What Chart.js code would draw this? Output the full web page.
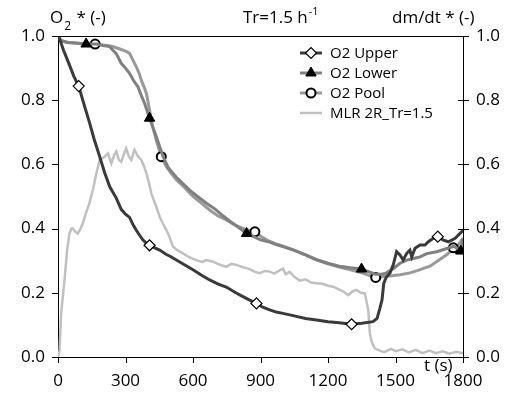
<!DOCTYPE html>
<html>
<head>
<meta charset="utf-8">
<script src="https://cdn.jsdelivr.net/npm/chart.js@4.4.0/dist/chart.umd.min.js"></script>
<style>
	html, body { margin: 0; padding: 0; background: #fff; }
	canvas { display: block; }
</style>
</head>
<body>
<canvas id="chart" width="514" height="406"></canvas>
<script>
// O2 Upper (left axis)
const upperT = [0, 10, 25, 45, 70, 92, 110, 140, 160, 185, 207, 230, 259, 281, 300, 318, 335, 348, 362, 377, 392, 407, 430, 452, 480, 500, 526, 560, 600, 640, 674, 710, 748, 790, 822, 850, 882, 910, 941, 970, 1000, 1050, 1100, 1149, 1200, 1250, 1305, 1350, 1400, 1418, 1430, 1440, 1448, 1460, 1475, 1490, 1505, 1520, 1534, 1550, 1564, 1572, 1587, 1609, 1631, 1646, 1668, 1688, 1713, 1735, 1765, 1787, 1800];
const upperV = [1.0, 0.985, 0.955, 0.92, 0.875, 0.844, 0.80, 0.73, 0.68, 0.625, 0.575, 0.53, 0.495, 0.46, 0.445, 0.435, 0.41, 0.395, 0.38, 0.365, 0.355, 0.348, 0.34, 0.333, 0.32, 0.313, 0.302, 0.288, 0.272, 0.254, 0.24, 0.228, 0.218, 0.20, 0.188, 0.178, 0.167, 0.155, 0.147, 0.14, 0.136, 0.128, 0.12, 0.115, 0.11, 0.107, 0.102, 0.105, 0.11, 0.12, 0.15, 0.178, 0.23, 0.25, 0.261, 0.287, 0.328, 0.318, 0.302, 0.323, 0.333, 0.312, 0.339, 0.349, 0.349, 0.359, 0.37, 0.375, 0.364, 0.359, 0.37, 0.385, 0.395];
const upperMarks = [92, 407, 882, 1305, 1688];

// O2 Lower (left axis)
const lowerT = [0, 15, 40, 80, 125, 170, 200, 229, 245, 259, 270, 281, 300, 318, 335, 355, 370, 385, 397, 407, 422, 437, 452, 470, 490, 526, 555, 585, 620, 660, 700, 733, 770, 800, 838, 870, 900, 941, 970, 1000, 1050, 1100, 1149, 1200, 1250, 1300, 1349, 1380, 1410, 1440, 1460, 1490, 1520, 1550, 1579, 1609, 1639, 1683, 1728, 1760, 1790, 1800];
const lowerV = [1.0, 0.985, 0.98, 0.978, 0.975, 0.975, 0.97, 0.967, 0.955, 0.945, 0.93, 0.915, 0.90, 0.884, 0.862, 0.842, 0.815, 0.79, 0.765, 0.744, 0.715, 0.686, 0.655, 0.62, 0.59, 0.56, 0.54, 0.52, 0.50, 0.479, 0.46, 0.44, 0.42, 0.405, 0.385, 0.375, 0.365, 0.358, 0.35, 0.344, 0.332, 0.318, 0.303, 0.292, 0.283, 0.278, 0.274, 0.266, 0.258, 0.258, 0.262, 0.275, 0.292, 0.302, 0.307, 0.312, 0.322, 0.328, 0.338, 0.345, 0.33, 0.37];
const lowerMarks = [125, 407, 838, 1349, 1790];

// O2 Pool (left axis)
const poolT = [0, 15, 50, 100, 165, 200, 240, 281, 303, 318, 333, 348, 360, 370, 383, 393, 400, 407, 420, 437, 459, 480, 500, 526, 560, 600, 640, 674, 710, 748, 790, 830, 875, 910, 941, 970, 1000, 1050, 1100, 1149, 1200, 1250, 1300, 1350, 1380, 1412, 1440, 1475, 1520, 1564, 1600, 1653, 1700, 1730, 1757, 1780, 1800];
const poolV = [1.0, 0.985, 0.98, 0.977, 0.975, 0.972, 0.968, 0.958, 0.952, 0.946, 0.925, 0.904, 0.885, 0.863, 0.84, 0.821, 0.795, 0.769, 0.72, 0.675, 0.624, 0.595, 0.575, 0.552, 0.53, 0.50, 0.478, 0.458, 0.44, 0.427, 0.41, 0.398, 0.39, 0.372, 0.36, 0.352, 0.345, 0.333, 0.318, 0.303, 0.29, 0.28, 0.272, 0.262, 0.255, 0.248, 0.25, 0.252, 0.256, 0.262, 0.27, 0.283, 0.305, 0.32, 0.34, 0.35, 0.37];
const poolMarks = [165, 459, 875, 1412, 1757];

// MLR 2R_Tr=1.5 (right axis)
const mlrT = [0, 7, 14, 29, 40, 51, 60, 66, 77, 88, 100, 110, 125, 140, 155, 170, 185, 200, 207, 222, 237, 250, 259, 270, 281, 292, 303, 315, 326, 335, 340, 355, 370, 382, 393, 405, 415, 425, 437, 452, 466, 478, 489, 500, 511, 530, 555, 585, 615, 640, 660, 689, 710, 730, 748, 770, 793, 820, 852, 875, 897, 920, 941, 960, 985, 1000, 1012, 1030, 1050, 1075, 1100, 1125, 1149, 1175, 1200, 1223, 1250, 1270, 1290, 1310, 1327, 1345, 1364, 1372, 1379, 1386, 1395, 1408, 1430, 1450, 1480, 1500, 1530, 1560, 1590, 1620, 1650, 1680, 1710, 1740, 1770, 1800];
const mlrV = [0.0, 0.02, 0.136, 0.24, 0.33, 0.385, 0.40, 0.40, 0.39, 0.385, 0.40, 0.416, 0.45, 0.48, 0.52, 0.57, 0.614, 0.62, 0.624, 0.634, 0.603, 0.63, 0.64, 0.615, 0.608, 0.63, 0.65, 0.625, 0.614, 0.635, 0.645, 0.625, 0.614, 0.595, 0.572, 0.54, 0.51, 0.49, 0.468, 0.437, 0.416, 0.40, 0.385, 0.365, 0.344, 0.333, 0.323, 0.31, 0.302, 0.296, 0.302, 0.297, 0.29, 0.285, 0.281, 0.29, 0.287, 0.28, 0.274, 0.265, 0.261, 0.268, 0.266, 0.26, 0.27, 0.275, 0.258, 0.265, 0.25, 0.238, 0.242, 0.232, 0.23, 0.228, 0.222, 0.219, 0.21, 0.203, 0.193, 0.205, 0.209, 0.20, 0.198, 0.17, 0.146, 0.074, 0.045, 0.027, 0.02, 0.015, 0.025, 0.018, 0.024, 0.014, 0.022, 0.012, 0.02, 0.012, 0.018, 0.01, 0.016, 0.012];

// Tick labels
const xTicks = [0, 300, 600, 900, 1200, 1500, 1800];
const yTicks = [0, 0.2, 0.4, 0.6, 0.8, 1.0];

const FONT = '"Open Sans", "Noto Sans", sans-serif';

function pts(ts, vs) {
	return ts.map((t, i) => ({ x: t, y: vs[i] }));
}

function markRadius(ts, marks, r) {
	return (ctx) => marks.includes(ts[ctx.dataIndex]) ? r : 0;
}

// Titles, axis caption, in-plot legend and axis tick marks
const annotations = {
	id: 'annotations',
	afterDraw(chart) {
		const c = chart.ctx;
		c.save();
		c.fillStyle = '#000';
		c.textBaseline = 'alphabetic';
		c.textAlign = 'left';

		// O2 * (-)
		c.font = '17px ' + FONT;
		c.fillText('O', 50, 23);
		let w = c.measureText('O').width;
		c.font = '12px ' + FONT;
		c.fillText('2', 50 + w + 1, 30);
		let w2 = c.measureText('2').width;
		c.font = '17px ' + FONT;
		c.fillText(' * (-)', 50 + w + w2 + 2, 23);

		// Tr=1.5 h-1
		c.fillText('Tr=1.5 h', 243, 23);
		w = c.measureText('Tr=1.5 h').width;
		c.font = '11px ' + FONT;
		c.fillText('-1', 243 + w + 1, 15);

		// dm/dt * (-)
		c.font = '17px ' + FONT;
		c.fillText('dm/dt * (-)', 392, 23);

		// t (s)
		c.fillText('t (s)', 424, 371);

		// legend
		c.font = '15px ' + FONT;
		c.textBaseline = 'middle';
		chart.data.datasets.forEach((ds, i) => {
			const y = 53 + i * 20;
			c.strokeStyle = ds.borderColor;
			c.lineWidth = ds.borderWidth;
			c.beginPath();
			c.moveTo(300, y);
			c.lineTo(322, y);
			c.stroke();
			if (ds.legendStyle) {
				c.fillStyle = ds.pointBackgroundColor;
				c.strokeStyle = ds.pointBorderColor;
				c.lineWidth = ds.pointBorderWidth;
				Chart.helpers.drawPoint(c, { pointStyle: ds.legendStyle, radius: ds.legendRadius, rotation: 0, borderWidth: ds.pointBorderWidth }, 311, y);
			}
			c.fillStyle = '#000';
			c.fillText(ds.label, 330, y + 1);
		});

		// tick marks: left out, right across, bottom down
		const ys = chart.scales.y;
		const y2 = chart.scales.y2;
		const xs = chart.scales.x;
		c.strokeStyle = '#000';
		c.lineWidth = 1;
		c.beginPath();
		yTicks.forEach(v => {
			const py = Math.round(ys.getPixelForValue(v)) + 0.5;
			c.moveTo(ys.right - 6, py);
			c.lineTo(ys.right, py);
			c.moveTo(y2.left - 5, py);
			c.lineTo(y2.left + 6, py);
		});
		xTicks.forEach(v => {
			const px = Math.round(xs.getPixelForValue(v)) + 0.5;
			c.moveTo(px, xs.top);
			c.lineTo(px, xs.top + 6);
		});
		// top frame line
		const top = Math.round(chart.chartArea.top) + 0.5;
		c.moveTo(chart.chartArea.left, top);
		c.lineTo(chart.chartArea.right, top);
		c.stroke();
		c.restore();
	}
};

const tickFont = { family: FONT, size: 17 };

const config = {
	type: 'line',
	data: {
		datasets: [
			{
				label: 'O2 Upper',
				data: pts(upperT, upperV),
				yAxisID: 'y',
				borderColor: '#3a3a3a',
				borderWidth: 3,
				pointStyle: 'rectRot',
				pointRadius: markRadius(upperT, upperMarks, 5.5),
				pointBackgroundColor: '#fff',
				pointBorderColor: '#000',
				pointBorderWidth: 1.2,
				legendStyle: 'rectRot',
				legendRadius: 5.5
			},
			{
				label: 'O2 Lower',
				data: pts(lowerT, lowerV),
				yAxisID: 'y',
				borderColor: '#808080',
				borderWidth: 3,
				pointStyle: 'triangle',
				pointRadius: markRadius(lowerT, lowerMarks, 6),
				pointBackgroundColor: '#000',
				pointBorderColor: '#000',
				pointBorderWidth: 1,
				legendStyle: 'triangle',
				legendRadius: 6
			},
			{
				label: 'O2 Pool',
				data: pts(poolT, poolV),
				yAxisID: 'y',
				borderColor: '#999999',
				borderWidth: 3,
				pointStyle: 'circle',
				pointRadius: markRadius(poolT, poolMarks, 4.5),
				pointBackgroundColor: '#fff',
				pointBorderColor: '#000',
				pointBorderWidth: 2,
				legendStyle: 'circle',
				legendRadius: 4.5
			},
			{
				label: 'MLR 2R_Tr=1.5',
				data: pts(mlrT, mlrV),
				yAxisID: 'y2',
				borderColor: '#c0c0c0',
				borderWidth: 2.5,
				pointRadius: 0
			}
		]
	},
	options: {
		responsive: false,
		animation: false,
		events: [],
		layout: { padding: { top: 36, left: 0, right: 0, bottom: 0 } },
		elements: { line: { tension: 0 } },
		plugins: {
			legend: { display: false },
			tooltip: { enabled: false },
			title: { display: false }
		},
		scales: {
			x: {
				type: 'linear',
				min: 0,
				max: 1800,
				afterBuildTicks: (s) => { s.ticks = xTicks.map(v => ({ value: v })); },
				ticks: { font: tickFont, color: '#000', padding: 9, maxRotation: 0, autoSkip: false, callback: (v) => String(v) },
				grid: { drawOnChartArea: false, drawTicks: true, tickLength: 5, tickColor: 'rgba(0,0,0,0)' },
				border: { color: '#000', width: 1 },
				afterFit: (s) => { s.height = 49; }
			},
			y: {
				position: 'left',
				min: 0,
				max: 1,
				afterBuildTicks: (s) => { s.ticks = yTicks.map(v => ({ value: v })); },
				ticks: { font: tickFont, color: '#000', padding: 7, callback: (v) => v.toFixed(1) },
				grid: { drawOnChartArea: false, drawTicks: true, tickLength: 6, tickColor: 'rgba(0,0,0,0)' },
				border: { color: '#000', width: 1 },
				afterFit: (s) => { s.width = 58; }
			},
			y2: {
				position: 'right',
				min: 0,
				max: 1,
				afterBuildTicks: (s) => { s.ticks = yTicks.map(v => ({ value: v })); },
				ticks: { font: tickFont, color: '#000', padding: 8, callback: (v) => v.toFixed(1) },
				grid: { drawOnChartArea: false, drawTicks: true, tickLength: 5, tickColor: 'rgba(0,0,0,0)' },
				border: { color: '#000', width: 1 },
				afterFit: (s) => { s.width = 51; }
			}
		}
	},
	plugins: [annotations]
};

new Chart(document.getElementById('chart'), config);
</script>
</body>
</html>
